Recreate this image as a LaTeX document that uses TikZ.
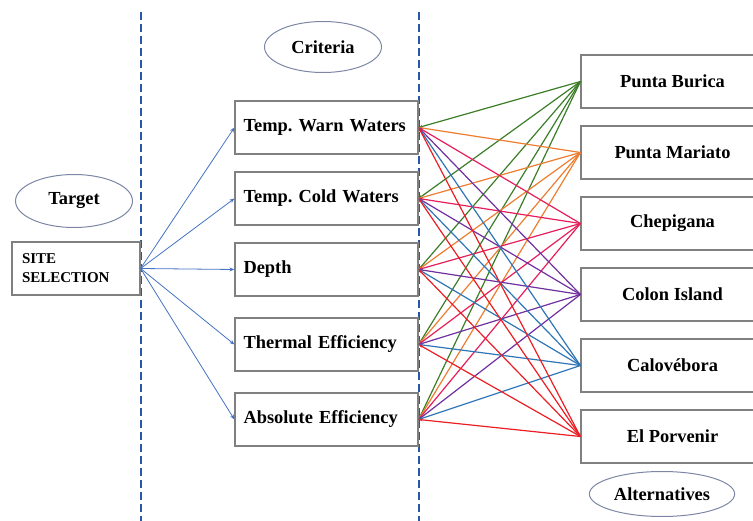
\documentclass[tikz,border=0pt]{standalone}
\usepackage{fontspec}
\setmainfont{Liberation Serif}
\usepackage{xcolor}
\usepackage{tikz}
\usetikzlibrary{arrows.meta,positioning,shapes.geometric}
\frenchspacing

\definecolor{boxgray}{RGB}{128,128,128}
\definecolor{ellgray}{RGB}{125,135,165}
\definecolor{divblue}{RGB}{40,88,165}
\definecolor{arrowblue}{RGB}{68,114,196}
\definecolor{lgreen}{RGB}{60,125,40}
\definecolor{lorange}{RGB}{237,125,49}
\definecolor{lpink}{RGB}{230,30,90}
\definecolor{lpurple}{RGB}{112,48,160}
\definecolor{lblue}{RGB}{46,117,182}
\definecolor{lred}{RGB}{235,30,35}

\begin{document}
\begin{tikzpicture}[
    x=1pt, y=-1pt,
    node distance=71pt,
    box/.style={rectangle, draw=boxgray, line width=1.2pt, minimum height=53pt, font=\fontsize{18.4}{22}\selectfont\bfseries},
    crit/.style={box, text width=166pt, inner xsep=8.5pt, align=left},
    alt/.style={box, minimum width=183pt, align=center},
    tag/.style={ellipse, draw=ellgray, line width=1pt, font=\fontsize{18.4}{22}\selectfont\bfseries},
    divider/.style={draw=divblue, line width=2.6pt, dash pattern=on 8pt off 4pt},
    arrow/.style={-{Stealth[length=5pt,width=4pt]}, draw=arrowblue, line width=0.8pt},
    link/.style={{Stealth[length=4pt,width=3pt]}-, line width=1.2pt}
]
    \useasboundingbox (0,0) rectangle (753,521);

    % level separators
    \draw[divider] (141,12) -- (141,521);
    \draw[divider] (419,12) -- (419,521);

    % titles
    \node[tag, minimum width=117pt, minimum height=53pt] (target) at (74,201) {Target};
    \node[tag, minimum width=117pt, minimum height=51pt] (criteria) at (323,47) {Criteria};
    \node[tag, minimum width=120pt, minimum height=45pt] (alternatives) at (662,494) {Alternatives};

    % goal
    \node[box, text width=108pt, inner xsep=10pt, align=left, font=\fontsize{15}{19}\selectfont\bfseries] (site) at (76,268.5) {SITE\\SELECTION};

    % criteria
    \node[crit] (warm) at (326.5,127.5) {Temp. Warn Waters};
    \node[crit, below of=warm] (cold) {Temp. Cold Waters};
    \node[crit, below of=cold] (depth) {Depth};
    \node[crit, below of=depth, yshift=-4pt] (thermal) {Thermal Efficiency};
    \node[crit, below of=thermal, yshift=-4pt] (absolute) {Absolute Efficiency};

    % alternatives
    \node[alt] (burica) at (672.5,81.5) {Punta Burica};
    \node[alt, below of=burica] (mariato) {Punta Mariato};
    \node[alt, below of=mariato] (chepigana) {Chepigana};
    \node[alt, below of=chepigana] (colon) {Colon Island};
    \node[alt, below of=colon] (calovebora) {Calovébora};
    \node[alt, below of=calovebora] (porvenir) {El Porvenir};

    \draw[arrow] (site.east) -- (warm.west);
    \draw[arrow] (site.east) -- (cold.west);
    \draw[arrow] (site.east) -- (depth.west);
    \draw[arrow] (site.east) -- (thermal.west);
    \draw[arrow] (site.east) -- (absolute.west);

    \foreach \c in {warm,cold,depth,thermal,absolute} \draw[link, lgreen] (\c.east) -- (burica.west);
    \foreach \c in {warm,cold,depth,thermal,absolute} \draw[link, lorange] (\c.east) -- (mariato.west);
    \foreach \c in {warm,cold,depth,thermal,absolute} \draw[link, lpink] (\c.east) -- (chepigana.west);
    \foreach \c in {warm,cold,depth,thermal,absolute} \draw[link, lpurple] (\c.east) -- (colon.west);
    \foreach \c in {warm,cold,depth,thermal,absolute} \draw[link, lblue] (\c.east) -- (calovebora.west);
    \foreach \c in {warm,cold,depth,thermal,absolute} \draw[link, lred] (\c.east) -- (porvenir.west);
\end{tikzpicture}
\end{document}
